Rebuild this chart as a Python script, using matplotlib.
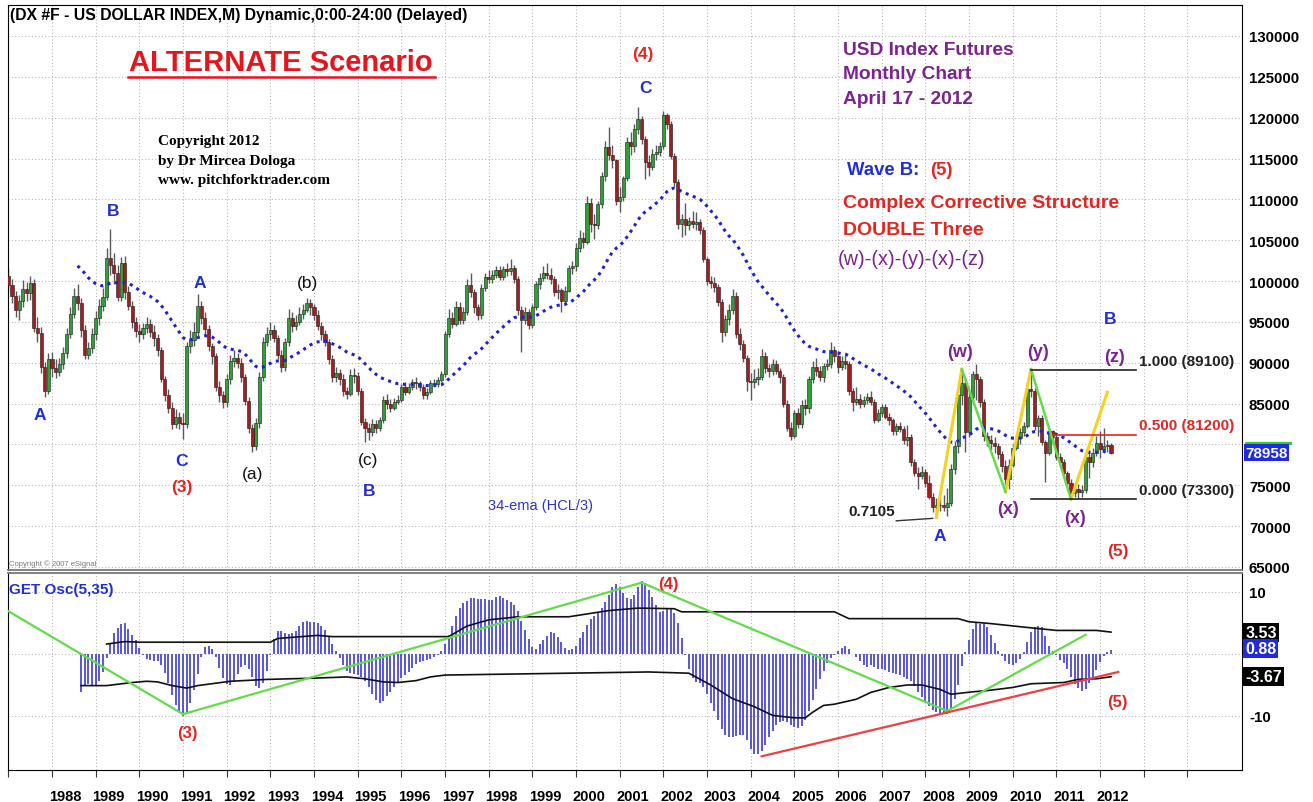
import numpy as np
import matplotlib.pyplot as plt
import matplotlib.transforms as mtransforms
from matplotlib.patches import Rectangle

plt.rcParams['font.family'] = ['Liberation Sans', 'DejaVu Sans']

# monthly DX bars, Nov 1985 .. Apr 2012 (the first 14 months sit left of the window,
# they only feed the 34-ema and the oscillator)
first_open = 128.5
closes = [
    126.2, 123.6,
    120.3, 114.6, 115.2, 110.6, 114.0, 112.0, 107.0, 104.5, 105.5, 106.0, 105.0, 100.6,   # 1986
    99.5, 98.2, 96.5, 97.5, 99.0, 98.5, 99.8, 94.2, 93.6, 89.5, 86.6, 90.5,               # 1987
    89.4, 88.9, 89.8, 91.2, 93.5, 96.0, 98.2, 97.3, 94.0, 91.0, 91.8, 93.5,               # 1988
    95.5, 97.0, 98.0, 102.8, 102.0, 101.0, 98.0, 102.2, 98.7, 97.0, 95.0, 93.9,           # 1989
    93.5, 94.2, 94.7, 93.8, 93.0, 91.5, 88.0, 86.0, 84.5, 82.5, 83.3, 82.6,               # 1990
    82.5, 92.0, 92.8, 93.8, 97.0, 95.5, 94.1, 92.0, 90.8, 87.0, 86.0, 85.2,               # 1991
    88.0, 90.2, 90.6, 90.0, 88.2, 85.3, 82.0, 79.8, 82.6, 88.2, 92.5, 93.5,               # 1992
    94.0, 93.0, 91.0, 89.5, 92.5, 95.5, 94.5, 95.0, 96.0, 96.5, 97.3, 96.8,               # 1993
    95.8, 94.5, 93.5, 92.6, 90.5, 88.2, 88.8, 88.0, 86.5, 86.2, 88.5, 88.4,               # 1994
    86.5, 82.8, 82.0, 81.5, 82.5, 82.0, 83.0, 85.5, 85.0, 84.5, 85.2, 85.5,               # 1995
    87.0, 86.4, 87.0, 87.6, 87.5, 87.0, 86.0, 86.4, 87.5, 87.4, 87.9, 88.6,               # 1996
    93.5, 95.5, 94.8, 96.8, 95.2, 96.2, 99.5, 98.6, 96.8, 95.8, 99.2, 100.5,              # 1997
    100.2, 100.8, 101.3, 100.5, 101.5, 101.2, 101.6, 100.2, 96.4, 95.2, 96.2, 94.6,       # 1998
    96.8, 99.6, 100.4, 101.0, 100.8, 100.2, 98.6, 98.9, 97.6, 98.8, 101.6, 101.8,         # 1999
    104.0, 105.3, 104.8, 109.5, 107.0, 106.8, 109.4, 112.9, 116.4, 115.4, 114.8, 109.8,   # 2000
    110.3, 112.6, 117.0, 116.5, 118.6, 119.8, 117.4, 114.6, 114.0, 115.5, 115.8, 116.5,   # 2001
    120.3, 119.2, 115.3, 112.1, 107.0, 107.6, 106.8, 107.4, 107.0, 107.2, 106.3, 102.7,   # 2002
    100.0, 99.8, 99.3, 97.4, 93.8, 95.3, 96.5, 98.2, 93.5, 92.3, 90.6, 87.8,              # 2003
    87.6, 88.0, 88.2, 90.8, 89.3, 89.0, 89.8, 89.0, 88.2, 85.0, 82.0, 81.0,               # 2004
    83.8, 82.5, 84.8, 84.4, 88.0, 89.5, 89.0, 88.2, 89.6, 89.8, 91.5, 90.8,               # 2005
    89.5, 90.2, 89.8, 86.5, 85.2, 85.6, 85.0, 85.4, 85.8, 85.2, 83.0, 83.8,               # 2006
    84.6, 83.4, 83.0, 81.6, 82.3, 81.9, 80.5, 80.9, 77.8, 76.5, 76.1, 76.6,               # 2007
    75.3, 73.6, 72.3, 72.6, 72.6, 72.4, 72.8, 77.0, 79.8, 86.0, 87.5, 81.5,               # 2008
    85.8, 88.6, 88.0, 85.2, 81.0, 80.6, 80.2, 79.8, 78.8, 77.4, 75.8, 77.5,               # 2009
    79.6, 80.8, 81.5, 82.3, 86.8, 86.6, 82.3, 83.2, 80.3, 79.0, 81.6, 80.9,               # 2010
    78.5, 77.8, 76.5, 75.3, 74.0, 74.5, 74.2, 74.4, 78.5, 77.8, 79.0, 80.2,               # 2011
    79.5, 79.8, 79.9, 78.958,                                                             # 2012
]
highs = [
    129.5, 127.0,
    124.5, 121.0, 117.0, 116.0, 115.2, 115.0, 112.5, 107.5, 106.5, 107.2, 107.0, 105.4,
    101.5, 100.2, 98.8, 98.3, 100.1, 99.9, 100.6, 100.2, 95.6, 94.4, 90.1, 91.2,
    91.3, 90.4, 90.6, 91.9, 94.2, 96.8, 99.1, 99.6, 97.9, 94.6, 92.6, 94.2,
    96.3, 97.8, 99.2, 104.0, 106.4, 103.4, 102.0, 102.9, 103.1, 99.4, 97.6, 95.6,
    94.8, 94.9, 95.6, 95.4, 94.6, 93.5, 91.9, 88.4, 86.8, 85.2, 84.3, 84.0,
    83.9, 92.6, 94.0, 95.0, 98.4, 97.6, 96.2, 94.6, 92.4, 91.2, 87.8, 86.6,
    88.6, 90.9, 91.5, 91.2, 90.6, 88.6, 85.8, 82.5, 83.2, 88.9, 93.2, 94.4,
    95.0, 94.6, 93.4, 91.5, 93.0, 96.6, 96.2, 95.9, 96.8, 97.2, 97.9, 97.8,
    97.2, 96.4, 95.0, 94.0, 92.9, 90.9, 89.5, 89.2, 88.6, 87.0, 89.2, 89.3,
    88.9, 86.9, 83.2, 82.6, 83.1, 83.0, 83.4, 85.9, 86.2, 85.6, 85.7, 86.0,
    87.4, 87.6, 87.5, 88.0, 88.2, 87.8, 87.4, 86.9, 87.9, 88.0, 88.3, 89.0,
    93.9, 96.6, 96.2, 97.6, 97.4, 96.8, 100.2, 101.0, 99.0, 97.2, 99.6, 101.0,
    101.4, 101.3, 101.8, 101.9, 101.9, 102.2, 102.7, 102.0, 100.6, 96.9, 96.8, 96.6,
    97.2, 100.0, 101.0, 101.8, 102.2, 101.6, 100.6, 99.6, 99.2, 99.4, 102.0, 102.5,
    104.6, 106.2, 106.0, 110.4, 110.2, 108.2, 109.8, 113.3, 117.2, 118.9, 116.6, 115.0,
    111.5, 112.9, 117.6, 118.2, 119.2, 121.3, 120.2, 117.8, 115.4, 116.2, 116.6, 117.0,
    120.8, 120.6, 119.6, 115.7, 112.5, 108.2, 109.5, 107.9, 108.6, 108.4, 107.6, 106.6,
    103.0, 100.6, 100.5, 99.6, 97.8, 95.8, 97.2, 99.0, 98.6, 94.2, 92.8, 91.0,
    88.8, 89.2, 89.4, 91.7, 91.3, 89.9, 90.4, 90.3, 89.3, 88.6, 85.4, 82.8,
    84.2, 84.5, 85.5, 85.6, 88.4, 90.2, 90.6, 89.6, 90.0, 90.5, 92.5, 92.0,
    91.4, 90.8, 90.9, 90.2, 86.9, 87.0, 86.2, 85.9, 86.3, 86.6, 85.6, 84.3,
    85.0, 85.0, 83.9, 83.2, 82.6, 82.8, 82.2, 82.4, 81.3, 78.2, 77.2, 77.3,
    77.0, 76.2, 74.0, 73.4, 73.5, 73.8, 74.7, 77.6, 80.4, 87.2, 89.2, 88.2,
    86.6, 89.0, 89.8, 88.4, 85.6, 81.5, 81.2, 80.9, 80.2, 79.2, 78.1, 78.2,
    80.1, 81.3, 82.0, 82.7, 87.6, 89.2, 86.9, 83.6, 83.6, 80.6, 81.9, 81.8,
    81.3, 79.0, 78.2, 76.8, 75.8, 75.3, 75.2, 75.0, 79.0, 79.3, 79.6, 81.0,
    81.6, 82.0, 80.6, 80.2,
]
lows = [
    125.0, 122.5,
    119.0, 113.8, 112.5, 109.8, 109.5, 110.8, 106.5, 103.8, 103.5, 104.5, 104.2, 100.2,
    98.6, 97.3, 95.6, 95.2, 96.8, 97.6, 97.7, 93.8, 92.6, 88.8, 85.8, 86.2,
    88.3, 88.1, 88.4, 89.2, 90.6, 93.0, 95.5, 96.4, 93.2, 90.4, 90.5, 91.2,
    92.8, 94.6, 96.3, 97.7, 100.8, 99.6, 97.6, 97.5, 97.8, 96.4, 94.2, 93.2,
    92.6, 92.9, 93.6, 93.2, 92.0, 90.8, 87.6, 85.3, 83.9, 81.9, 82.0, 81.9,
    80.7, 82.0, 91.2, 92.1, 93.2, 94.8, 93.4, 91.4, 89.9, 86.5, 85.2, 84.5,
    84.6, 87.4, 89.5, 89.4, 87.6, 84.8, 81.4, 79.1, 79.3, 82.0, 87.8, 92.0,
    92.8, 92.5, 90.5, 88.9, 89.0, 92.0, 93.8, 94.0, 94.6, 95.4, 96.2, 95.9,
    95.2, 94.0, 92.8, 92.0, 89.9, 87.6, 87.7, 87.3, 85.9, 85.6, 85.9, 87.5,
    86.0, 82.4, 80.3, 80.6, 81.0, 81.4, 81.6, 82.6, 84.3, 84.0, 84.2, 84.9,
    85.2, 86.1, 86.2, 86.7, 86.8, 86.5, 85.6, 85.6, 86.2, 87.0, 87.0, 87.6,
    88.2, 93.1, 94.2, 94.5, 94.8, 94.8, 95.9, 98.0, 96.1, 95.2, 95.4, 98.8,
    99.7, 99.8, 100.4, 100.1, 100.1, 100.6, 100.8, 99.8, 95.9, 91.3, 94.8, 94.1,
    94.2, 96.4, 99.0, 100.0, 100.2, 99.6, 98.2, 97.8, 96.2, 97.2, 98.6, 100.9,
    101.2, 103.5, 104.0, 104.5, 106.0, 105.2, 106.4, 109.0, 112.3, 114.8, 113.8, 109.3,
    108.5, 109.8, 112.2, 115.4, 115.8, 118.0, 116.8, 112.5, 112.9, 113.6, 114.8, 115.3,
    116.2, 118.6, 115.0, 111.6, 106.4, 105.4, 105.6, 106.3, 106.5, 106.3, 105.8, 102.3,
    99.5, 99.2, 98.7, 97.0, 92.5, 93.3, 94.6, 96.0, 93.0, 91.5, 90.1, 86.5,
    85.4, 86.9, 87.3, 87.9, 88.8, 88.3, 88.5, 88.6, 87.5, 84.6, 81.6, 80.5,
    80.8, 82.0, 82.0, 83.6, 83.8, 87.5, 88.4, 87.8, 87.7, 89.1, 89.4, 90.1,
    88.8, 89.1, 89.2, 86.1, 84.1, 84.8, 84.5, 84.6, 85.0, 84.8, 82.6, 82.7,
    83.3, 83.1, 82.4, 81.2, 81.2, 81.5, 80.0, 79.8, 77.4, 76.1, 74.5, 75.8,
    74.8, 73.3, 71.7, 71.05, 71.9, 71.8, 71.3, 72.5, 76.4, 79.0, 84.8, 79.1,
    80.9, 85.2, 85.4, 84.6, 80.4, 79.8, 79.3, 79.0, 78.2, 76.6, 74.2, 74.6,
    77.2, 79.3, 80.1, 81.0, 82.0, 85.8, 81.8, 81.0, 79.9, 75.4, 78.7, 80.0,
    78.1, 77.3, 75.9, 74.9, 73.3, 73.6, 73.5, 73.6, 74.0, 75.9, 77.2, 78.6,
    78.4, 78.9, 79.1, 78.8,
]

years = list(range(1988, 2013))
price_ticks = list(range(65, 131, 5))
hidden_tick = 80   # sits under the last-price box

ema_len = 34
osc_fast, osc_slow = 5, 35

# oscillator breakout bands
upper_band_dates = ['1989-04', '1989-09', '1990-01', '1993-01', '1993-03', '1994-02', '1994-06',
                    '1997-02', '1997-07', '1998-01', '1998-09', '1999-11', '2000-10', '2001-06',
                    '2002-04', '2002-06', '2005-12', '2006-04', '2008-10', '2009-01', '2009-07',
                    '2010-03', '2011-01', '2011-12', '2012-04']
upper_band = [1.6, 2.0, 1.9, 1.9, 2.5, 3.0, 2.8,
              2.8, 4.5, 5.5, 6.0, 6.0, 7.0, 7.4,
              7.3, 6.8, 6.8, 5.7, 5.7, 5.2, 4.9,
              4.4, 3.8, 3.8, 3.53]
lower_band_dates = ['1988-09', '1989-04', '1989-11', '1990-03', '1990-06', '1990-10', '1991-02',
                    '1991-05', '1992-02', '1992-12', '1994-01', '1994-10', '1995-03', '1995-08',
                    '1995-12', '1996-05', '1996-09', '1997-01', '2001-09', '2002-08', '2003-02',
                    '2003-08', '2004-02', '2004-07', '2005-01', '2005-04', '2005-06', '2005-09',
                    '2005-12', '2006-06', '2006-10', '2007-03', '2007-08', '2007-12', '2008-05',
                    '2008-08', '2009-02', '2009-06', '2010-01', '2010-06', '2011-03', '2011-07',
                    '2011-12', '2012-04']
lower_band = [-5.1, -5.1, -4.6, -4.4, -4.5, -5.1, -5.5,
              -5.1, -4.4, -4.1, -3.9, -3.7, -4.0, -4.5,
              -4.6, -4.3, -3.7, -3.4, -2.9, -3.1, -5.0,
              -7.2, -8.5, -9.9, -10.3, -10.3, -9.4, -8.3,
              -8.1, -7.3, -6.2, -5.4, -5.0, -5.0, -5.7,
              -6.5, -6.1, -5.9, -5.4, -4.8, -4.6, -4.1,
              -4.0, -3.67]
osc_last = [3.53, 0.88, -3.67]

# hand-drawn wave legs on the price panel
yellow_legs = [('2008-04', 71.05, '2008-11', 89.2), ('2009-11', 74.2, '2010-06', 89.2),
               ('2011-05', 73.3, '2012-03', 86.4)]
green_legs = [('2008-11', 89.2, '2009-11', 74.2), ('2010-06', 89.2, '2011-05', 73.3)]
fib_levels = [89.1, 81.2, 73.3]
fib_labels = ['1.000 (89100)', '0.500 (81200)', '0.000 (73300)']
fib_starts = ['2010-06', '2010-12', '2010-06']
fib_end = '2012-11'
low_mark = ('2007-05', 70.65, '2008-03', 70.95)

# hand-drawn lines on the oscillator
osc_green = [('1987-01', 6.9, '1991-01', -9.7), ('1991-01', -9.7, '2001-07', 11.5),
             ('2001-07', 11.5, '2008-07', -9.2), ('2008-07', -9.2, '2011-09', 3.1)]
osc_red = [('2004-04', -16.5, '2012-06', -2.9)]


def mi(s):
    y, m = s.split('-')
    return (int(y) - 1985) * 12 + int(m) - 11


c = np.array(closes)
h = np.array(highs)
l = np.array(lows)
o = np.r_[first_open, c[:-1]]
n = len(c)
x = np.arange(n)

# 34-ema of (H+C+L)/3, seeded with the plain average of the first 34 bars
typ = (h + c + l) / 3
ema = np.full(n, np.nan)
ema[ema_len - 1] = typ[:ema_len].mean()
alpha = 2 / (ema_len + 1)
for i in range(ema_len, n):
    ema[i] = ema[i - 1] + alpha * (typ[i] - ema[i - 1])


def sma(a, k):
    out = np.full(len(a), np.nan)
    out[k - 1:] = np.convolve(a, np.ones(k) / k, 'valid')
    return out


med = (h + l) / 2
osc = sma(med, osc_fast) - sma(med, osc_slow)

W, H = 1313, 803
fig = plt.figure(figsize=(W / 100, H / 100), dpi=100)
ax = fig.add_axes([8 / W, 1 - 571 / H, 1234 / W, 565 / H])
ax2 = fig.add_axes([8 / W, 1 - 771 / H, 1234 / W, 197 / H])

xmin, xmax = 13.9, 353.0
jan = [mi(f'{y}-01') for y in range(1987, 2015)]
grid_kw = dict(color='#b8b8b8', ls=(0, (1, 2)), lw=0.8)

# ---- price panel
ax.set_xlim(xmin, xmax)
ax.set_ylim(64.63, 133.79)
ax.set_xticks(jan)
ax.set_xticklabels([])
ax.tick_params(axis='x', length=0)
ax.yaxis.tick_right()
ax.set_yticks(price_ticks)
ax.set_yticklabels(['' if v == hidden_tick else str(v * 1000) for v in price_ticks],
                   fontsize=10.8, fontweight='bold')
ax.tick_params(axis='y', length=0, pad=5)
ax.grid(True, **grid_kw)
ax.set_axisbelow(True)
ax.spines['bottom'].set_color('#777777')
ax.spines['bottom'].set_linewidth(1.3)

up = c >= o
ax.vlines(x, l, h, color='#5a5a5a', lw=1.0, zorder=2)
ax.bar(x[up], (c - o)[up], bottom=o[up], width=0.85, color='#2f9f37',
       edgecolor='#1c1c1c', lw=0.4, zorder=3)
ax.bar(x[~up], (o - c)[~up], bottom=c[~up], width=0.85, color='#a31c20',
       edgecolor='#1c1c1c', lw=0.4, zorder=3)

ax.plot(x, ema, color='#1e22d4', ls=(0, (1, 1.5)), lw=2.2, zorder=4)

for a, va, b, vb in yellow_legs:
    ax.plot([mi(a), mi(b)], [va, vb], color='#f4d21f', lw=2.2, zorder=5)
for a, va, b, vb in green_legs:
    ax.plot([mi(a), mi(b)], [va, vb], color='#63dc4a', lw=1.8, zorder=5)
for lev, lab, st in zip(fib_levels, fib_labels, fib_starts):
    col = '#e3261f' if lab.startswith('0.5') else '#222222'
    ax.plot([mi(st), mi(fib_end)], [lev, lev], color=col, lw=1.2, zorder=5)
    ax.text(mi(fib_end) + 0.7, lev + 1.15, lab, color=col, fontsize=11,
            ha='left', va='center', fontweight='bold')
ax.plot([mi(low_mark[0]), mi(low_mark[2])], [low_mark[1], low_mark[3]], color='#333333', lw=1.0)
ax.text(mi(low_mark[0]) - 0.4, 71.8, '0.7105', fontsize=11, fontweight='bold',
        ha='right', va='center', color='#222222')

blue, red, purple = '#1f2fd6', '#e3261f', '#7b2390'
wave_labels = [
    ('B', 42.8, 108.6, blue), ('A', 22.7, 83.7, blue), ('A', 66.7, 99.8, blue),
    ('C', 61.7, 78.0, blue), ('(3)', 61.7, 74.9, red), ('B', 113.1, 74.4, blue),
    ('C', 189.0, 123.75, blue), ('(4)', 188.4, 127.8, red), ('A', 270.0, 68.9, blue),
    ('B', 316.7, 95.4, blue), ('(5)', 318.9, 67.0, red),
]
for txt, xi, yv, col in wave_labels:
    ax.text(xi, yv, txt, color=col, fontsize=12.5, fontweight='bold', ha='center', va='center')
for txt, xi, yv in [('(a)', 81.0, 76.4), ('(b)', 96.3, 99.8), ('(c)', 112.8, 78.1)]:
    ax.text(xi, yv, txt, color='#111111', fontsize=12.5, ha='center', va='center')
for txt, xi, yv in [('(w)', 275.5, 91.4), ('(x)', 288.7, 72.2), ('(y)', 297.0, 91.4),
                    ('(x)', 307.1, 71.1), ('(z)', 318.1, 90.8)]:
    ax.text(xi, yv, txt, color=purple, fontsize=13, fontweight='bold', ha='center', va='center')
ax.text(160.1, 72.6, '34-ema (HCL/3)', color='#2a35d6', fontsize=10.5, ha='center', va='center')

T = ax.transAxes
ax.text(0.0016, 0.983, '(DX #F - US DOLLAR INDEX,M) Dynamic,0:00-24:00 (Delayed)', transform=T,
        fontsize=11.3, fontweight='bold', ha='left', va='center')
ax.text(0.2212, 0.899, 'ALTERNATE Scenario', transform=T, color='#e8141b', fontsize=21,
        fontweight='bold', ha='center', va='center')
ax.plot([0.0972, 0.346], [0.8725, 0.8725], transform=T, color='#e8141b', lw=1.8)
for k, line in enumerate(['Copyright 2012', 'by Dr Mircea Dologa', 'www. pitchforktrader.com']):
    ax.text(0.1216, 0.7593 - k * 0.0345, line, transform=T, family='Liberation Serif',
            fontsize=11, fontweight='bold', ha='left', va='center')
for k, line in enumerate(['USD Index Futures', 'Monthly Chart', 'April 17 - 2012']):
    ax.text(0.6767, 0.9221 - k * 0.0434, line, transform=T, color=purple, fontsize=13.8,
            fontweight='bold', ha='left', va='center')
ax.text(0.6799, 0.7097, 'Wave B:', transform=T, color=blue, fontsize=13.3, fontweight='bold',
        ha='left', va='center')
ax.text(0.7472, 0.7097, '(5)', transform=T, color=red, fontsize=13.3, fontweight='bold',
        ha='left', va='center')
ax.text(0.6767, 0.6496, 'Complex Corrective Structure', transform=T, color=red, fontsize=14,
        fontweight='bold', ha='left', va='center')
ax.text(0.6767, 0.6018, 'DOUBLE Three', transform=T, color=red, fontsize=14,
        fontweight='bold', ha='left', va='center')
ax.text(0.6726, 0.5522, '(w)-(x)-(y)-(x)-(z)', transform=T, color=purple, fontsize=14.3,
        ha='left', va='center')
ax.text(0.001, 0.0124, 'Copyright \u00a9 2007 eSignal', transform=T, color='#777777', fontsize=5.5,
        ha='left', va='center')

bt = mtransforms.blended_transform_factory(ax.transAxes, ax.transData)
ax.add_patch(Rectangle((1.0025, c[-1] + 0.95), 0.038, 0.45, transform=bt, fc='#2bd12b',
                       ec='none', clip_on=False))
ax.text(1.0025, c[-1], f'{c[-1] * 1000:.0f}', transform=bt, fontsize=11, fontweight='bold',
        color='white', ha='left', va='center', clip_on=False,
        bbox=dict(boxstyle='square,pad=0.1', fc='#1f2be0', ec='none'))

# ---- oscillator panel
ax2.set_xlim(xmin, xmax)
ax2.set_ylim(-18.71, 13.06)
ax2.set_xticks(jan)
ax2.set_xticklabels([])
ax2.tick_params(axis='x', length=5, direction='out', color='#333333')
ax2.yaxis.tick_right()
ax2.set_yticks([10, 0, -10])
ax2.set_yticklabels(['10', '', '-10'], fontsize=10.8, fontweight='bold')
ax2.tick_params(axis='y', length=0, pad=5)
ax2.grid(True, **grid_kw)
ax2.set_axisbelow(True)
ax2.spines['top'].set_color('#777777')
ax2.spines['top'].set_linewidth(1.3)

ok = ~np.isnan(osc)
ax2.vlines(x[ok], 0, osc[ok], color='#4a4ad4', lw=1.3, zorder=2)
ax2.plot([mi(d) for d in upper_band_dates], upper_band, color='#111111', lw=1.2, zorder=3)
ax2.plot([mi(d) for d in lower_band_dates], lower_band, color='#111111', lw=1.2, zorder=3)
for a, va, b, vb in osc_green:
    ax2.plot([mi(a), mi(b)], [va, vb], color='#63dc4a', lw=1.6, zorder=4)
for a, va, b, vb in osc_red:
    ax2.plot([mi(a), mi(b)], [va, vb], color='#ee4040', lw=1.6, zorder=4)

ax2.text(0.001, 0.92, 'GET Osc(5,35)', transform=ax2.transAxes, color='#1f2fd6', fontsize=11,
         fontweight='bold', ha='left', va='center')
for txt, xi, yv in [('(3)', 63.1, -12.6), ('(4)', 195.3, 11.3), ('(5)', 318.7, -7.6)]:
    ax2.text(xi, yv, txt, color=red, fontsize=12, fontweight='bold', ha='center', va='center')

bt2 = mtransforms.blended_transform_factory(ax2.transAxes, ax2.transData)
for val, fc in zip(osc_last, ['black', '#1f2be0', 'black']):
    ax2.text(1.0025, val, f'{val:.2f}', transform=bt2, fontsize=11.5, fontweight='bold',
             color='white', ha='left', va='center', clip_on=False,
             bbox=dict(boxstyle='square,pad=0.12', fc=fc, ec='none'))

bx = mtransforms.blended_transform_factory(ax2.transData, ax2.transAxes)
for yr in years:
    ax2.text(mi(f'{yr}-01') + 3.57, -0.132, str(yr), transform=bx, fontsize=10.5,
             fontweight='bold', ha='center', va='center', clip_on=False)

fig.savefig('out.png', dpi=100)
